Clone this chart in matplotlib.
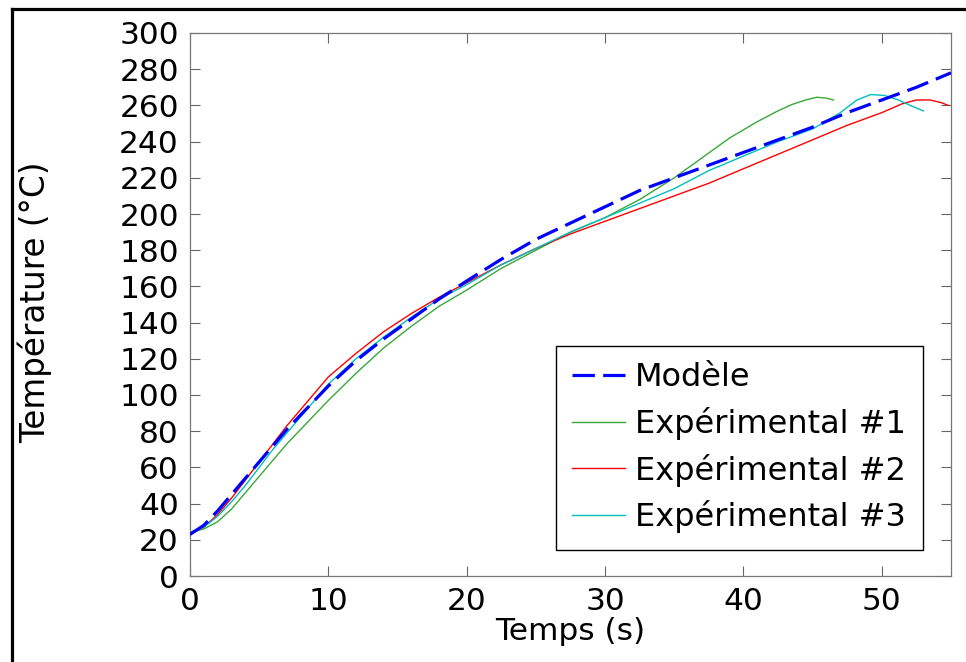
from matplotlib import pyplot as plt
from matplotlib.lines import Line2D

t_mod = [0, 1, 2, 3, 4, 5, 6, 7, 8, 9, 10, 12, 14, 16, 18, 20, 22.5, 25, 27.5, 30,
         32.5, 35, 37.5, 40, 42.5, 45, 47.5, 50, 52.5, 55]
T_mod = [23, 28, 36, 45, 54, 63, 72, 81, 89, 97, 105, 119, 131, 142, 153, 163, 175, 186, 195, 204,
         213, 220, 227, 234, 241, 248, 256, 263, 270, 278]

t_exp1 = [0, 1, 2, 3, 4, 5, 6, 7, 8, 9, 10, 12, 14, 16, 18, 20, 22.5, 25, 27.5, 30,
          32.5, 35, 37, 39, 41, 42.5, 43.5, 44.5, 45.3, 46, 46.5]
T_exp1 = [24, 26, 30, 37, 46, 55, 64, 73, 81, 89, 97, 112, 126, 138, 149, 158, 170, 180, 190, 198,
          208, 220, 231, 242, 251, 257, 260.5, 263, 264.5, 264, 263]

t_exp2 = [0, 1, 2, 3, 4, 5, 6, 7, 8, 9, 10, 12, 14, 16, 18, 20, 22.5, 25, 27.5, 30,
          32.5, 35, 37.5, 40, 42.5, 45, 47.5, 50, 51.5, 52.5, 53.5, 54.3, 54.8]
T_exp2 = [24, 27, 34, 43, 53, 63, 73, 83, 92, 101, 110, 123, 135, 145, 154, 162, 172, 181, 189, 196,
          203, 210, 217, 225, 233, 241, 249, 256, 261, 263, 263, 261.5, 260]

t_exp3 = [0, 1, 2, 3, 4, 5, 6, 7, 8, 9, 10, 12, 14, 16, 18, 20, 22.5, 25, 27.5, 30,
          32.5, 35, 37.5, 40, 42.5, 45, 47, 48.2, 49.2, 50.2, 51.2, 52.2, 53]
T_exp3 = [24, 27, 33, 41, 50, 60, 70, 79, 88, 97, 106, 120, 132, 143, 153, 161, 172, 181, 190, 198,
          206, 214, 224, 232, 240, 247, 256, 263, 266, 265.5, 263, 259.5, 257]

x_ticks = [0, 10, 20, 30, 40, 50]
y_ticks = list(range(0, 301, 20))

plt.rcParams['font.family'] = ['DejaVu Sans']
fs = 22.5

fig = plt.figure(figsize=(9.66, 6.62), dpi=100)
ax = fig.add_axes([190 / 966, 1 - 576 / 662, 761 / 966, 543 / 662])

ax.plot(t_mod, T_mod, color='b', lw=2.3, dashes=(7, 2.6), label='Modèle', zorder=5)
ax.plot(t_exp1, T_exp1, color='#38a838', lw=1.0, label='Expérimental #1')
ax.plot(t_exp2, T_exp2, color='r', lw=1.0, label='Expérimental #2')
ax.plot(t_exp3, T_exp3, color='c', lw=1.0, label='Expérimental #3')

ax.set_xlim(0, 55)
ax.set_ylim(0, 300)
ax.set_xticks(x_ticks)
ax.set_yticks(y_ticks)
ax.tick_params(direction='in', length=7, width=0.8, color='#666666',
               top=True, right=True, labelsize=fs, pad=8)
for s in ax.spines.values():
    s.set_color('#777777')
    s.set_linewidth(0.9)

ax.set_xlabel('Temps (s)', fontsize=fs, labelpad=1)
ax.set_ylabel('Température (°C)', fontsize=23.5)
ax.yaxis.set_label_coords(-0.181, 0.505)

leg = ax.legend(loc='lower right', bbox_to_anchor=(0.963, 0.048), borderaxespad=0,
                fontsize=23, fancybox=False, framealpha=1, handlelength=1.65,
                handletextpad=0.32, labelspacing=0.43, borderpad=0.52)
leg.get_frame().set_edgecolor('black')
leg.get_frame().set_linewidth(1.0)

# outer frame of the picture (left and top edges only show)
fig.add_artist(Line2D([11.5 / 966, 11.5 / 966], [0, 1 - 8.5 / 662], color='black', lw=2.3))
fig.add_artist(Line2D([11.5 / 966, 1], [1 - 8.5 / 662, 1 - 8.5 / 662], color='black', lw=2.3))

fig.savefig('out.png', dpi=100)
